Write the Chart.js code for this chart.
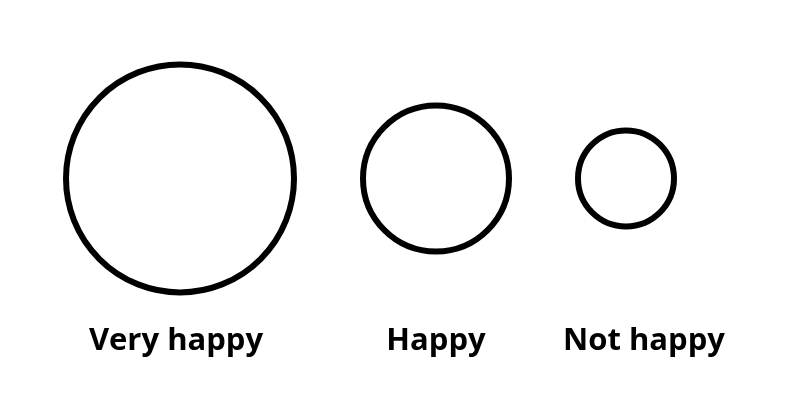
<!DOCTYPE html>
<html>
<head>
<meta charset="utf-8">
<script src="https://cdn.jsdelivr.net/npm/chart.js@4/dist/chart.umd.min.js"></script>
<style>
html,body{margin:0;padding:0;background:#fff;}
canvas{display:block;}
</style>
</head>
<body>
<canvas id="c" width="805" height="420"></canvas>
<script>
const categories = ["Very happy", "Happy", "Not happy"];
const bubbleX = [180, 436, 626];
const bubbleR = [114, 73, 48];
const labelX = [176, 436, 644];

const points = categories.map((c, i) => ({x: bubbleX[i], y: 0, r: bubbleR[i]}));

new Chart(document.getElementById('c'), {
  type: 'bubble',
  data: {
    datasets: [{
      data: points,
      backgroundColor: '#ffffff',
      borderColor: '#000000',
      borderWidth: 6,
      hoverBorderWidth: 6,
      clip: false
    }]
  },
  options: {
    responsive: false,
    animation: false,
    events: [],
    layout: {autoPadding: false, padding: {top: 40, bottom: 54, left: 0, right: 0}},
    plugins: {legend: {display: false}, tooltip: {enabled: false}},
    scales: {
      x: {
        type: 'linear',
        min: 0,
        max: 805,
        grid: {display: false, drawTicks: false},
        border: {display: false},
        afterBuildTicks: (scale) => { scale.ticks = labelX.map(v => ({value: v})); },
        ticks: {
          autoSkip: false,
          maxRotation: 0,
          padding: 6,
          color: '#000000',
          font: {family: "'Open Sans', sans-serif", size: 31, weight: 'bold'},
          callback: (value, index) => categories[index]
        }
      },
      y: {
        display: false,
        min: -1,
        max: 1
      }
    }
  }
});
</script>
</body>
</html>
